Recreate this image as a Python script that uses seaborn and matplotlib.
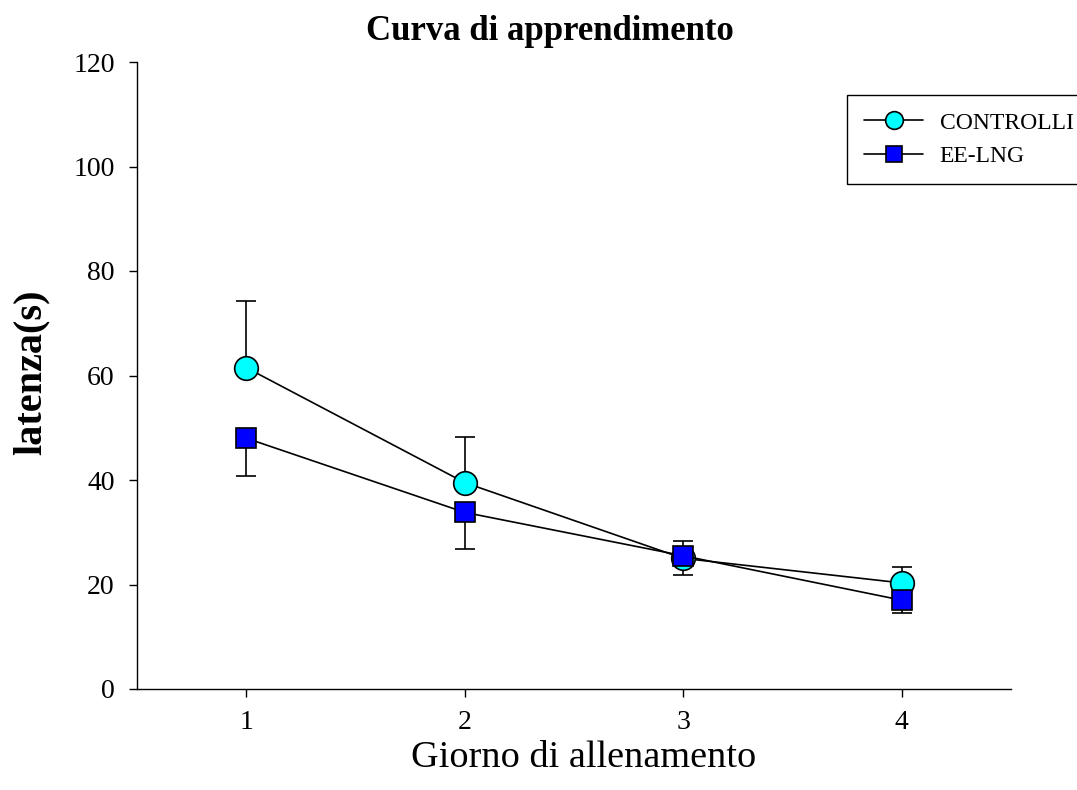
import numpy as np
import pandas as pd
import matplotlib
matplotlib.use("Agg")
import matplotlib.pyplot as plt
import seaborn as sns

# ---- data ----
days = [1, 2, 3, 4]
controlli_mean = [61.5, 39.5, 25.0, 20.3]
controlli_err_up = [12.8, 8.8, 3.4, 3.1]
eelng_mean = [48.0, 33.8, 25.5, 17.0]
eelng_err_down = [7.3, 7.0, 3.7, 2.5]
series_names = ["CONTROLLI", "EE-LNG"]
yticks = [0, 20, 40, 60, 80, 100, 120]

sns.set_theme(style="ticks")
plt.rcParams['font.family'] = ['Liberation Serif', 'DejaVu Serif']
plt.rcParams['text.color'] = 'black'
plt.rcParams['axes.labelcolor'] = 'black'

W, H = 1077, 790
fig = plt.figure(figsize=(W / 100, H / 100), dpi=100)
ax = fig.add_axes([137 / W, 1 - 689 / H, (1011 - 137) / W, (689 - 62) / H])

df_c = pd.DataFrame({"day": days, "lat": controlli_mean})
df_e = pd.DataFrame({"day": days, "lat": eelng_mean})

# error bars (one-sided), behind markers
ax.errorbar(days, controlli_mean,
            yerr=[np.zeros(len(days)), controlli_err_up],
            fmt='none', ecolor='black', elinewidth=1.2, capsize=7, capthick=1.2, zorder=1)
ax.errorbar(days, eelng_mean,
            yerr=[eelng_err_down, np.zeros(len(days))],
            fmt='none', ecolor='black', elinewidth=1.2, capsize=7, capthick=1.2, zorder=1)

sns.lineplot(data=df_c, x="day", y="lat", ax=ax, color='black', linewidth=1.2,
             marker='o', markersize=17, markerfacecolor='#00FFFF',
             markeredgecolor='black', markeredgewidth=1.2, label=series_names[0],
             zorder=3)
sns.lineplot(data=df_e, x="day", y="lat", ax=ax, color='black', linewidth=1.2,
             marker='s', markersize=15, markerfacecolor='#0000FF',
             markeredgecolor='black', markeredgewidth=1.2, label=series_names[1],
             zorder=4)

ax.set_xlim(0.5, 4.5)
ax.set_ylim(0, 120)
ax.set_xticks(days)
ax.set_yticks(yticks)
ax.tick_params(axis='both', direction='out', length=6, width=1, labelsize=20,
               colors='black')
ax.tick_params(axis='x', pad=9)
ax.tick_params(axis='y', pad=10)
for s in ['left', 'bottom']:
    ax.spines[s].set_linewidth(1.0)
    ax.spines[s].set_color('black')
sns.despine(ax=ax)

ax.set_xlabel("")
ax.set_ylabel("")
fig.text(584 / W, 1 - 767 / H, "Giorno di allenamento", fontsize=27.5,
         ha='center', va='baseline', color='black')
fig.text(31 / W, 1 - 372 / H, "latenza(s)", fontsize=29, fontweight='bold',
         rotation=90, ha='center', va='center', color='black')
fig.text(549.5 / W, 1 - 40 / H, "Curva di apprendimento", fontsize=25,
         fontweight='bold', ha='center', va='baseline', color='black')

leg = ax.legend(loc='upper left', bbox_to_anchor=(847 / W, 0.4, 0.3, 1 - 95 / H - 0.4),
                bbox_transform=fig.transFigure, mode='expand',
                fontsize=17, frameon=True, fancybox=False, shadow=False,
                handlelength=2.5, handletextpad=0.7, borderpad=0.72,
                labelspacing=0.5, markerscale=0.75, borderaxespad=0)
leg.get_frame().set_edgecolor('black')
leg.get_frame().set_linewidth(1.0)
leg.get_frame().set_alpha(1)
for t in leg.get_texts():
    t.set_color('black')

fig.savefig("out.png", dpi=100)
